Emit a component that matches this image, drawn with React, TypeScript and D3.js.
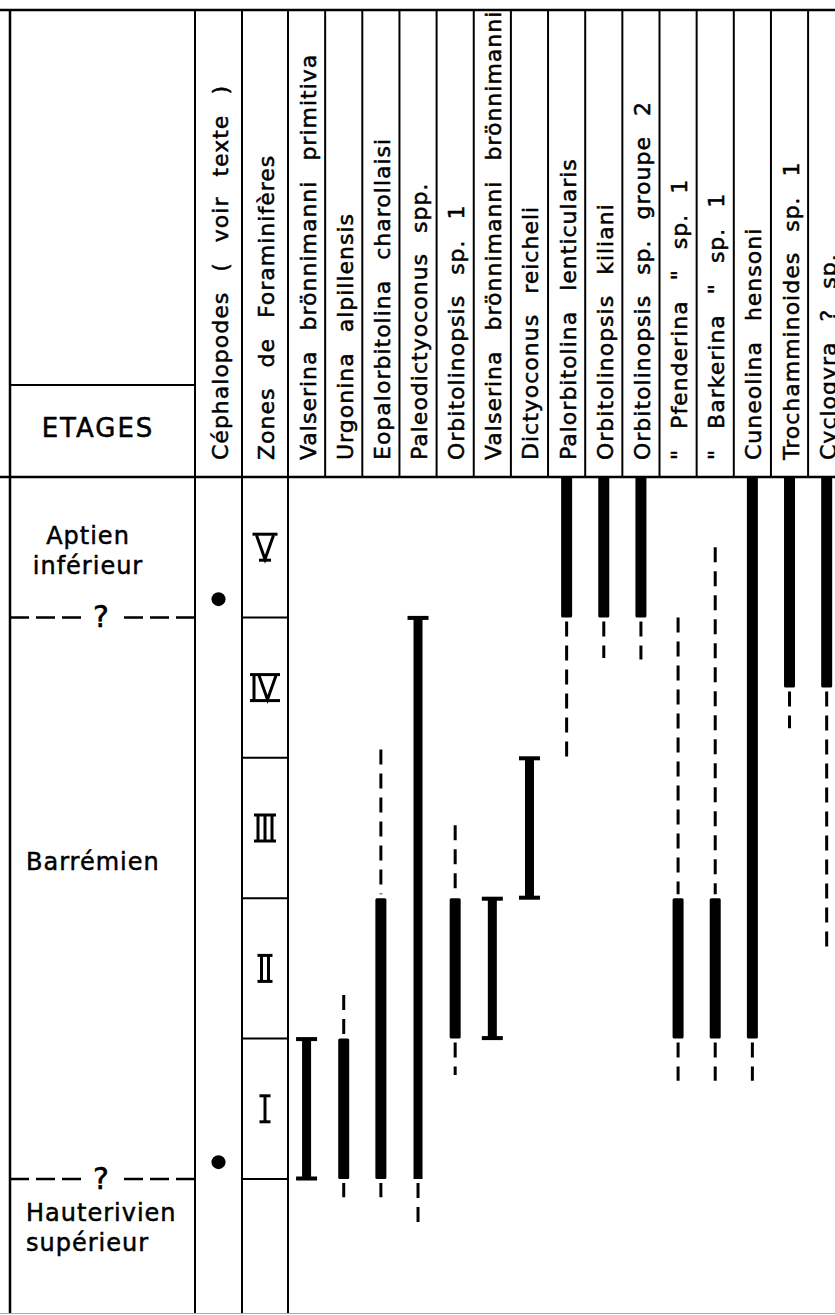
import {useEffect, useRef} from "react";
import * as d3 from "d3";

// species columns, left to right
const species = [
    "Valserina brönnimanni primitiva",
    "Urgonina alpillensis",
    "Eopalorbitolina charollaisi",
    "Paleodictyoconus spp.",
    "Orbitolinopsis sp. 1",
    "Valserina brönnimanni brönnimanni",
    "Dictyoconus reicheli",
    "Palorbitolina lenticularis",
    "Orbitolinopsis kiliani",
    "Orbitolinopsis sp. groupe 2",
    "\" Pfenderina \" sp. 1",
    "\" Barkerina \" sp. 1",
    "Cuneolina hensoni",
    "Trochamminoides sp. 1",
    "Cyclogyra ? sp.",
];

// ranges in zone units: 0 = base of zone I, 5 = top of zone V
const rangeBottom = [0, 0, 0, 0, 1, 1, 2, 4, 4, 4, 1, 1, 1, 3.5, 3.5];
const rangeTop = [1, 1, 2, 4, 2, 2, 3, 5, 5, 5, 2, 2, 5, 5, 5];
const rangeKind = ["ibeam", "bar", "bar", "captop", "bar", "ibeam", "ibeam", "bar", "bar", "bar", "bar", "bar", "bar", "bar", "bar"];
// uncertain extension (dashed) above / below the solid range
const dashedTop = [null, 1.31, 3.06, null, 2.52, null, null, null, null, null, 4.0, 4.5, null, null, null];
const dashedBottom = [null, -0.13, -0.13, -0.33, 0.74, null, null, 3.0, 3.71, 3.7, 0.7, 0.7, 0.7, 3.21, 1.61];

const zones = ["I", "II", "III", "IV", "V"];
const stageNames = [["Aptien", "inférieur"], ["Barrémien"], ["Hauterivien", "supérieur"]];
const stageLabelAt = [4.47, 2.26, -0.35];
const stageLimits = [4, 0]; // "- - - ? - - -" boundaries
const cephalopodAt = [4.13, 0.12];

export default function App() {
    const ref = useRef<SVGSVGElement>(null);

    useEffect(() => {
        if (!ref.current) return;
        const width = 835;
        const height = 1315;
        const left = 10;
        const top = 10;
        const headerBottom = 477;
        const etagesSplit = 385;
        const bottom = 1313;
        const etagesRight = 195;
        const cephRight = 242;
        const zonesRight = 288;
        const colStep = 37.15;
        const font = "'DejaVu Sans', sans-serif";

        const svg = d3.select(ref.current)
            .attr("width", width)
            .attr("height", height)
            .attr("viewBox", [0, 0, width, height]);
        svg.selectAll("*").remove();

        const y = d3.scaleLinear().domain([0, 5]).range([1179, 477]);
        const x = d3.scaleBand<string>()
            .domain(species)
            .range([zonesRight, zonesRight + colStep * species.length]);

        svg.append("rect").attr("width", width).attr("height", height).attr("fill", "white");

        // ---- grid
        const grid = svg.append("g").attr("stroke", "black").attr("fill", "none");
        const line = (x1: number, y1: number, x2: number, y2: number, w = 2) =>
            grid.append("line").attr("x1", x1).attr("y1", y1).attr("x2", x2).attr("y2", y2).attr("stroke-width", w);

        line(0, top, width, top, 2.5);
        line(0, headerBottom, width, headerBottom, 2.5);
        line(left, top, left, bottom, 2.5);
        line(etagesRight, top, etagesRight, bottom);
        line(cephRight, top, cephRight, bottom);
        line(zonesRight, top, zonesRight, bottom);
        line(left, etagesSplit, etagesRight, etagesSplit);
        species.forEach(s => line(x(s)! + x.bandwidth(), top, x(s)! + x.bandwidth(), headerBottom));
        d3.range(0, 5).forEach(v => line(cephRight, y(v), zonesRight, y(v)));
        line(0, bottom + 0.5, width, bottom + 0.5, 1.2).attr("stroke", "#aaa");

        // ---- header texts (rotated)
        const headerLabel = (text: string, cx: number) =>
            svg.append("text")
                .attr("transform", `translate(${cx + 9},460) rotate(-90)`)
                .attr("font-family", font)
                .attr("font-size", 22)
                .attr("stroke", "black")
                .attr("stroke-width", 0.5)
                .style("letter-spacing", "1px")
                .style("word-spacing", "12px")
                .text(text);

        headerLabel("Céphalopodes ( voir texte )", (etagesRight + cephRight) / 2);
        headerLabel("Zones de Foraminifères", (cephRight + zonesRight) / 2);
        species.forEach(s => headerLabel(s, x(s)! + x.bandwidth() / 2));

        svg.append("text")
            .attr("x", 98).attr("y", 437)
            .attr("text-anchor", "middle")
            .attr("font-family", font)
            .attr("font-size", 26)
            .attr("stroke", "black")
            .attr("stroke-width", 0.5)
            .style("letter-spacing", "2px")
            .text("ETAGES");

        // ---- stages
        stageNames.forEach((lines, i) => {
            const cy = y(stageLabelAt[i]);
            const centred = i === 0;
            const t = svg.append("text")
                .attr("font-family", font)
                .attr("font-size", 24)
                .attr("stroke", "black")
                .attr("stroke-width", 0.5)
                .style("letter-spacing", "1px")
                .attr("text-anchor", centred ? "middle" : "start");
            lines.forEach((l, j) => {
                t.append("tspan")
                    .attr("x", centred ? 88 : 26)
                    .attr("y", cy + 8 + (j - (lines.length - 1) / 2) * 30)
                    .text(l);
            });
        });

        stageLimits.forEach(v => {
            const yy = y(v);
            grid.append("line").attr("x1", left).attr("x2", 84).attr("y1", yy).attr("y2", yy)
                .attr("stroke-width", 2.5).attr("stroke-dasharray", "19 7");
            grid.append("line").attr("x1", etagesRight).attr("x2", 118).attr("y1", yy).attr("y2", yy)
                .attr("stroke-width", 2.5).attr("stroke-dasharray", "19 7");
            svg.append("text")
                .attr("x", 101).attr("y", yy + 10)
                .attr("text-anchor", "middle")
                .attr("font-family", font)
                .attr("font-size", 30)
                .attr("stroke", "black")
                .attr("stroke-width", 0.6)
                .text("?");
        });

        // ---- cephalopods
        svg.append("g").selectAll("circle").data(cephalopodAt).join("circle")
            .attr("cx", (etagesRight + cephRight) / 2)
            .attr("cy", d => y(d))
            .attr("r", 7)
            .attr("fill", "black");

        // ---- zone numerals (drawn as strokes with over/under bars)
        const zcx = (cephRight + zonesRight) / 2;
        const zg = svg.append("g").attr("stroke", "black").attr("stroke-width", 3).attr("fill", "none");
        zones.forEach((z, i) => {
            const cy = y(i + 0.5);
            const t = cy - 13;
            const b = cy + 13;
            const parts: {kind: string, l: number, r: number}[] = [];
            let cur = 0;
            z.split("").forEach((c, k) => {
                if (k > 0) cur += c === "V" ? 5 : 7;
                if (c === "I") {
                    parts.push({kind: "I", l: cur, r: cur});
                } else {
                    parts.push({kind: "V", l: cur, r: cur + 17});
                    cur += 17;
                }
            });
            const off = zcx - cur / 2;
            const l = off + parts[0].l;
            const r = off + parts[parts.length - 1].r;
            const pad = z === "I" ? 5.5 : 4;
            parts.forEach(p => {
                if (p.kind === "I") {
                    zg.append("line").attr("x1", off + p.l).attr("x2", off + p.l).attr("y1", t).attr("y2", b);
                } else {
                    zg.append("path").attr("d", `M${off + p.l},${t + 1}L${off + (p.l + p.r) / 2},${b - 1}L${off + p.r},${t + 1}`);
                }
            });
            zg.append("line").attr("x1", l - pad).attr("x2", r + pad).attr("y1", t).attr("y2", t);
            if (z === "V") {
                zg.append("line").attr("x1", zcx - 6).attr("x2", zcx + 6).attr("y1", b).attr("y2", b);
            } else {
                zg.append("line").attr("x1", l - pad).attr("x2", r + pad).attr("y1", b).attr("y2", b);
            }
        });

        // ---- ranges
        const rg = svg.append("g").attr("fill", "black");
        species.forEach((s, i) => {
            const cx = x(s)! + x.bandwidth() / 2;
            const y0 = y(rangeTop[i]);
            const y1 = y(rangeBottom[i]);
            const kind = rangeKind[i];
            const w = kind === "bar" ? 11 : 9;
            rg.append("rect")
                .attr("x", cx - w / 2).attr("width", w)
                .attr("y", y0).attr("height", y1 - y0)
                .attr("rx", kind === "bar" ? 1.5 : 0);
            if (kind === "ibeam" || kind === "captop") {
                rg.append("rect").attr("x", cx - 10.5).attr("width", 21).attr("y", y0 - 1.5).attr("height", 4);
            }
            if (kind === "ibeam") {
                rg.append("rect").attr("x", cx - 10.5).attr("width", 21).attr("y", y1 - 2.5).attr("height", 4);
            }
            const dt = dashedTop[i];
            if (dt !== null) {
                rg.append("line")
                    .attr("x1", cx).attr("x2", cx)
                    .attr("y1", y(dt)).attr("y2", y0 - 4)
                    .attr("stroke", "black").attr("stroke-width", 3)
                    .attr("stroke-dasharray", "15 9");
            }
            const db = dashedBottom[i];
            if (db !== null) {
                rg.append("line")
                    .attr("x1", cx).attr("x2", cx)
                    .attr("y1", y1 + 4).attr("y2", y(db))
                    .attr("stroke", "black").attr("stroke-width", 3)
                    .attr("stroke-dasharray", "15 9");
            }
        });
    }, []);

    return (
        <svg ref={ref} style={{position: "absolute", left: 0, top: 0, display: "block"}}/>
    );
}
